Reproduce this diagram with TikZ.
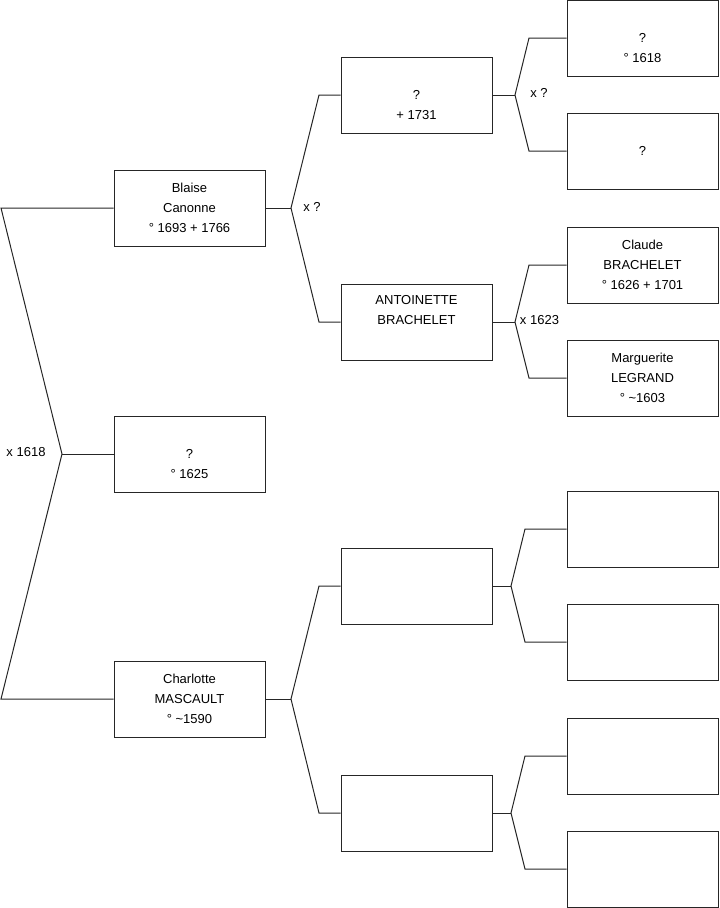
\documentclass[tikz,border=0pt]{standalone}
\usepackage{fontspec}
\setmainfont{Liberation Sans}
\newcommand{\blankfirst}{\rule{0pt}{7pt}}
\newcommand{\blanklast}{\rule[-2.5pt]{0pt}{2.5pt}}
\begin{document}
\begin{tikzpicture}[x=0.75pt,y=-0.75pt,
  person/.style={draw=black!85,line width=0.75pt,minimum width=113.25pt,minimum height=57pt,
    inner sep=0pt,align=center,font=\fontsize{9.75}{15}\selectfont},
  link/.style={draw=black!85,line width=0.75pt},
  lbl/.style={inner sep=0pt,font=\fontsize{9.75}{15}\selectfont}]
\useasboundingbox (0,0) rectangle (719,908);
% generation 1
\node[person] (blaise) at (189.5,208) {Blaise\\Canonne\\° 1693 + 1766};
\node[person] (p1625) at (189.5,454) {\blankfirst\\?\\° 1625};
\node[person] (charlotte) at (189.5,699) {Charlotte\\MASCAULT\\° \textasciitilde1590};
% generation 2
\node[person] (m1731) at (416.5,95) {\blankfirst\\?\\+ 1731};
\node[person] (antoinette) at (416.5,322) {ANTOINETTE\\BRACHELET\\\blanklast};
\node[person] (e1) at (416.5,586) {};
\node[person] (e2) at (416.5,813) {};
% generation 3
\node[person] (r1) at (642.5,38) {\blankfirst\\?\\° 1618};
\node[person] (r2) at (642.5,151) {?};
\node[person] (claude) at (642.5,265) {Claude\\BRACHELET\\° 1626 + 1701};
\node[person] (marguerite) at (642.5,378) {Marguerite\\LEGRAND\\° \textasciitilde1603};
\node[person] (r5) at (642.5,529) {};
\node[person] (r6) at (642.5,642) {};
\node[person] (r7) at (642.5,756) {};
\node[person] (r8) at (642.5,869) {};
% fork coordinates
\coordinate (la) at (1,208);
\coordinate (lf) at (62,454);
\coordinate (lb) at (1,699);
\coordinate (f2) at (291,208); \coordinate (f2a) at (319,95); \coordinate (f2b) at (319,322);
\coordinate (f3) at (515,95); \coordinate (f3a) at (529,38); \coordinate (f3b) at (529,151);
\coordinate (f4) at (515,322); \coordinate (f4a) at (529,265); \coordinate (f4b) at (529,378);
\coordinate (f5) at (511,586); \coordinate (f5a) at (525,529); \coordinate (f5b) at (525,642);
\coordinate (f6) at (291,699); \coordinate (f6a) at (319,586); \coordinate (f6b) at (319,813);
\coordinate (f7) at (511,813); \coordinate (f7a) at (525,756); \coordinate (f7b) at (525,869);
% connectors
\draw[link] (blaise.west) -- (la) -- (lf) -- (lb) -- (charlotte.west);
\draw[link] (lf) -- (p1625.west);
\draw[link] (blaise.east) -- (f2);
\draw[link] (m1731.west) -- (f2a) -- (f2) -- (f2b) -- (antoinette.west);
\draw[link] (m1731.east) -- (f3);
\draw[link] (r1.west) -- (f3a) -- (f3) -- (f3b) -- (r2.west);
\draw[link] (antoinette.east) -- (f4);
\draw[link] (claude.west) -- (f4a) -- (f4) -- (f4b) -- (marguerite.west);
\draw[link] (e1.east) -- (f5);
\draw[link] (r5.west) -- (f5a) -- (f5) -- (f5b) -- (r6.west);
\draw[link] (charlotte.east) -- (f6);
\draw[link] (e1.west) -- (f6a) -- (f6) -- (f6b) -- (e2.west);
\draw[link] (e2.east) -- (f7);
\draw[link] (r7.west) -- (f7a) -- (f7) -- (f7b) -- (r8.west);
% labels
\node[lbl] (x1618) at (26,452) {x 1618};
\node[lbl] (x2) at (312,207) {x ?};
\node[lbl] (x3) at (539,93) {x ?};
\node[lbl] (x1623) at (539.5,320) {x 1623};
\end{tikzpicture}
\end{document}
